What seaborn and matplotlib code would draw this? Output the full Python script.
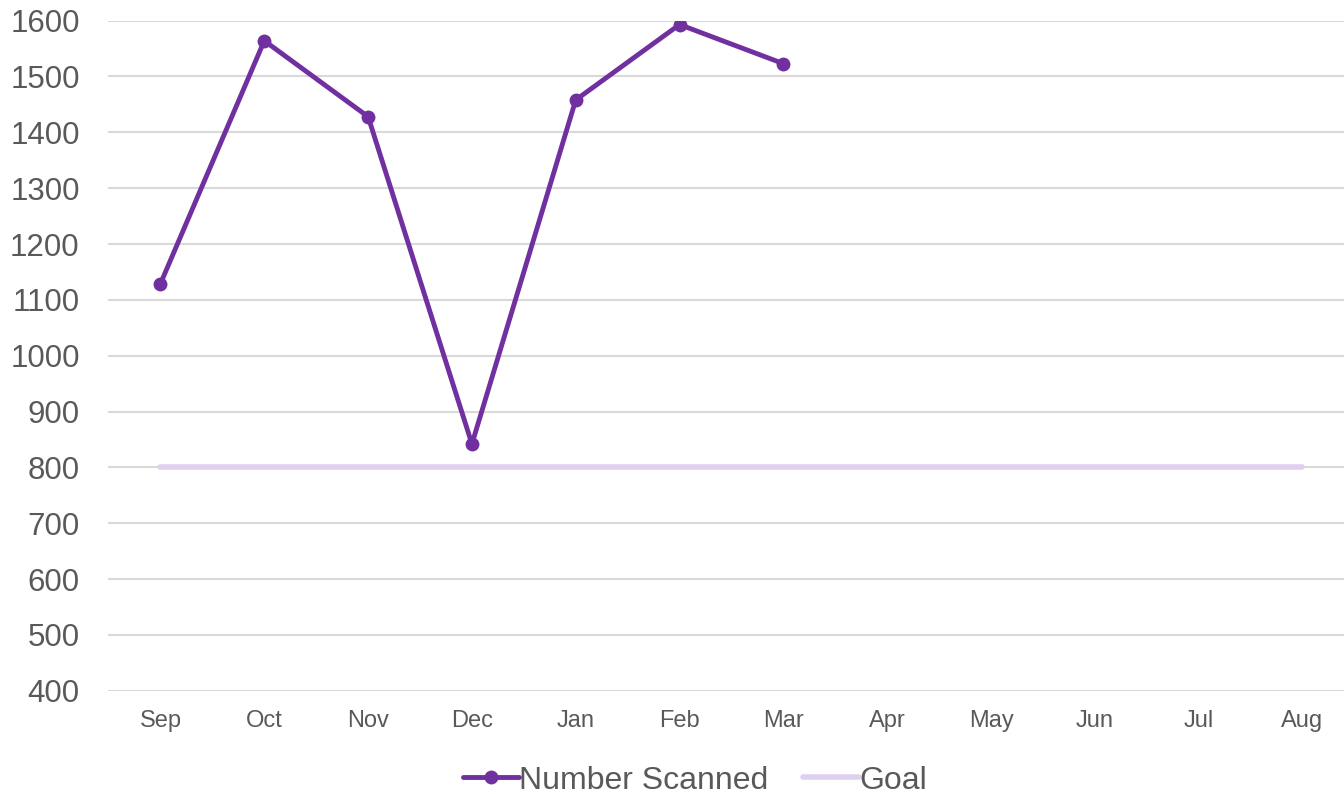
import pandas as pd
import numpy as np
import matplotlib
matplotlib.use('Agg')
import matplotlib.pyplot as plt
import seaborn as sns

months = ['Sep', 'Oct', 'Nov', 'Dec', 'Jan', 'Feb', 'Mar', 'Apr', 'May', 'Jun', 'Jul', 'Aug']
scanned = [1129, 1564, 1428, 842, 1458, 1593, 1523]
goal = [800] * 12

sns.set_style('white')
plt.rcParams['font.family'] = ['Liberation Sans', 'DejaVu Sans']

df_scan = pd.DataFrame({'x': np.arange(len(scanned)), 'y': scanned})
df_goal = pd.DataFrame({'x': np.arange(len(months)), 'y': goal})

fig = plt.figure(figsize=(13.44, 7.94), dpi=100)
ax = fig.add_axes([0.080, 0.130, 0.920, 0.844])

sns.lineplot(data=df_goal, x='x', y='y', color='#E0D0F0', linewidth=4,
             label='Goal', ax=ax, zorder=2)
sns.lineplot(data=df_scan, x='x', y='y', color='#7030A0', linewidth=3.5,
             marker='o', markersize=10, markeredgewidth=0,
             label='Number Scanned', ax=ax, zorder=3)

ax.set_ylim(400, 1600)
ax.set_yticks(np.arange(400, 1601, 100))
ax.set_xlim(-0.51, 11.4)
ax.set_xticks(np.arange(len(months)))
ax.set_xticklabels(months)
ax.grid(axis='y', color='#D9D9D9', linewidth=1.5)
ax.set_axisbelow(True)
for s in ax.spines.values():
    s.set_visible(False)
ax.tick_params(axis='y', labelsize=22.5, colors='#595959', length=0, pad=20)
ax.tick_params(axis='x', labelsize=17, colors='#595959', length=0, pad=14)
ax.set_xlabel('')
ax.set_ylabel('')

handles, labels = ax.get_legend_handles_labels()
leg = ax.legend(handles[::-1], labels[::-1], loc='center',
                bbox_to_anchor=(0.475, -0.134),
                ncol=2, frameon=False, fontsize=23, handlelength=1.75,
                handletextpad=0.0, columnspacing=1.1)
for t in leg.get_texts():
    t.set_color('#595959')

fig.savefig('out.png', dpi=100)
